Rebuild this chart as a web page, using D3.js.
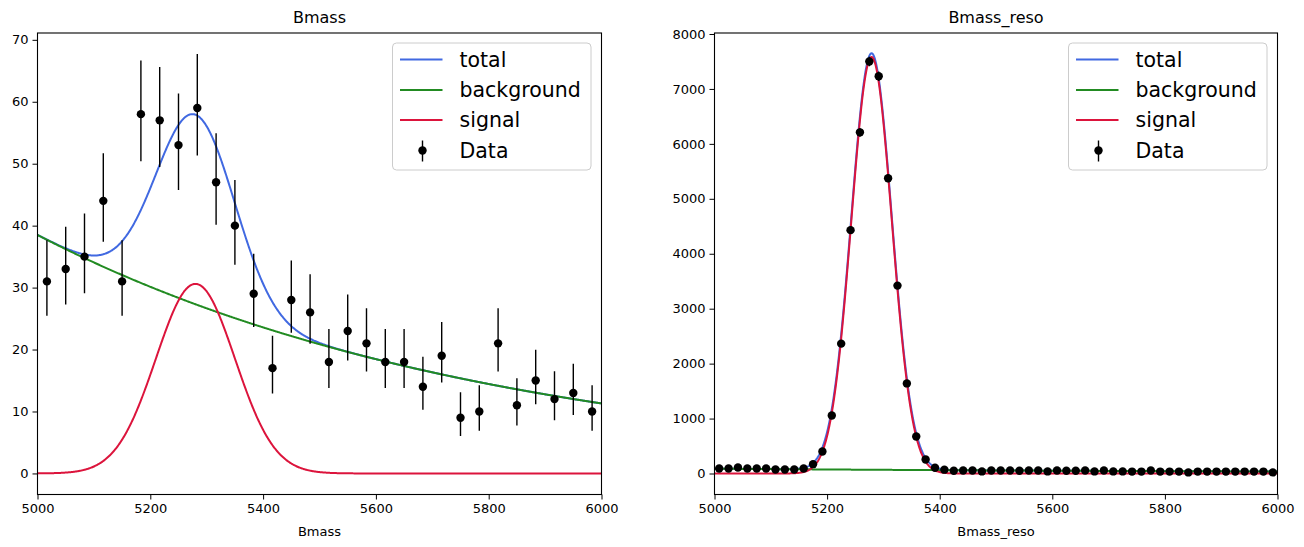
<!DOCTYPE html>
<html>
<head>
<meta charset="utf-8">
<script src="https://cdn.jsdelivr.net/npm/d3@7"></script>
<style>
  html, body { margin: 0; padding: 0; background: #fff; }
  svg { display: block; font-family: "DejaVu Sans", sans-serif; }
</style>
</head>
<body>
<svg id="chart" width="1304" height="547"></svg>
<script>
// ---------------- DATA ----------------
// Left panel: Bmass, 30 bins over [5000, 6000]
const bmassRange = [5000, 6000];
const bmassBins = 30;
const bmassCounts = [31, 33, 35, 44, 31, 58, 57, 53, 59, 47, 40, 29, 17, 28, 26,
                     18, 23, 21, 18, 18, 14, 19, 9, 10, 21, 11, 15, 12, 13, 10];
const bmassErrLow = [5.55, 5.72, 5.90, 6.61, 5.55, 7.60, 7.53, 7.26, 7.66, 6.84, 6.30, 5.36, 4.09, 5.27, 5.08,
                     4.21, 4.77, 4.56, 4.21, 4.21, 3.71, 4.33, 2.96, 3.12, 4.56, 3.28, 3.84, 3.43, 3.57, 3.12];
const bmassErrHigh = [6.63, 6.81, 6.98, 7.69, 6.63, 8.66, 8.60, 8.33, 8.73, 7.91, 7.38, 6.45, 5.21, 6.36, 6.17,
                      5.33, 5.87, 5.66, 5.33, 5.33, 4.84, 5.44, 4.12, 4.24, 5.66, 4.35, 4.97, 4.50, 4.69, 4.24];
// fit parameters (signal gaussian, exponential background), in counts per bin
const bmassSignal = { peak: 30.6, mean: 5280, sigma: 70 };
const bmassBkg = { at5000: 38.5, slope: 0.001226 };
const bmassYTicks = [0, 10, 20, 30, 40, 50, 60, 70];

// Right panel: Bmass_reso, 60 bins over [5000, 6000]
const resoRange = [5000, 6000];
const resoBins = 60;
const resoCounts = [91, 91, 109, 91, 91, 91, 73, 73, 73, 91,
                    170, 400, 1055, 2364, 4430, 6210, 7500, 7230, 5375, 3420,
                    1640, 675, 255, 105, 70, 50, 55, 55, 38, 55,
                    55, 55, 50, 55, 55, 38, 55, 50, 50, 55,
                    38, 55, 38, 38, 35, 35, 55, 35, 35, 35,
                    20, 35, 35, 35, 35, 35, 35, 35, 35, 20];
const resoSignal = { peak: 7580, mean: 5279, sigma: 36 };
const resoBkg = { at5000: 88, slope: 0.0009 };
const resoYTicks = [0, 1000, 2000, 3000, 4000, 5000, 6000, 7000, 8000];

const xTicks = [5000, 5200, 5400, 5600, 5800, 6000];
const legendLabels = ["total", "background", "signal", "Data"];
const colors = { total: "#4169E1", background: "#228B22", signal: "#DC143C", data: "#000000" };

// ---------------- DRAW ----------------
const svg = d3.select("#chart");

function panel(opts) {
  const { left, right, top, bottom, xDomain, yDomain, yTicks, counts, errLow, errHigh,
          nBins, sig, bkg, title, xlabel, id } = opts;
  const x = d3.scaleLinear().domain(xDomain).range([left, right]);
  const y = d3.scaleLinear().domain(yDomain).range([bottom, top]);
  const g = svg.append("g");

  const clipId = "clip-" + id;
  svg.append("defs").append("clipPath").attr("id", clipId)
    .append("rect").attr("x", left).attr("y", top).attr("width", right - left).attr("height", bottom - top);

  const binW = (xDomain[1] - xDomain[0]) / nBins;
  const centers = d3.range(nBins).map(i => xDomain[0] + (i + 0.5) * binW);

  const fSig = m => sig.peak * Math.exp(-((m - sig.mean) ** 2) / (2 * sig.sigma ** 2));
  const fBkg = m => bkg.at5000 * Math.exp(-bkg.slope * (m - 5000));
  const grid = d3.range(xDomain[0], xDomain[1] + 0.001, 1);

  const line = d3.line().x(d => x(d[0])).y(d => y(d[1]));
  const curves = g.append("g").attr("clip-path", `url(#${clipId})`);
  curves.append("path").attr("d", line(grid.map(m => [m, fSig(m) + fBkg(m)])))
    .attr("fill", "none").attr("stroke", colors.total).attr("stroke-width", 2);
  curves.append("path").attr("d", line(grid.map(m => [m, fBkg(m)])))
    .attr("fill", "none").attr("stroke", colors.background).attr("stroke-width", 2);
  curves.append("path").attr("d", line(grid.map(m => [m, fSig(m)])))
    .attr("fill", "none").attr("stroke", colors.signal).attr("stroke-width", 2);

  // data with error bars
  const pts = g.append("g").attr("clip-path", `url(#${clipId})`);
  counts.forEach((c, i) => {
    const lo = errLow ? errLow[i] : Math.sqrt(c);
    const hi = errHigh ? errHigh[i] : Math.sqrt(c);
    pts.append("line").attr("x1", x(centers[i])).attr("x2", x(centers[i]))
      .attr("y1", y(c - lo)).attr("y2", y(c + hi))
      .attr("stroke", "#000").attr("stroke-width", 1.4);
    pts.append("circle").attr("cx", x(centers[i])).attr("cy", y(c)).attr("r", 4.2).attr("fill", "#000");
  });

  // axes
  const xAxis = d3.axisBottom(x).tickValues(xTicks).tickFormat(d3.format("d")).tickSizeOuter(0).tickSize(5).tickPadding(4);
  const yAxis = d3.axisLeft(y).tickValues(yTicks).tickFormat(d3.format("d")).tickSizeOuter(0).tickSize(5).tickPadding(4);
  const gx = g.append("g").attr("transform", `translate(0,${bottom})`).call(xAxis);
  const gy = g.append("g").attr("transform", `translate(${left},0)`).call(yAxis);
  [gx, gy].forEach(a => {
    a.select(".domain").remove();
    a.selectAll("text").attr("font-size", 13).attr("fill", "#000").attr("font-family", "DejaVu Sans");
    a.selectAll("line").attr("stroke", "#000").attr("stroke-width", 1);
  });
  // frame
  g.append("rect").attr("x", left).attr("y", top).attr("width", right - left).attr("height", bottom - top)
    .attr("fill", "none").attr("stroke", "#000").attr("stroke-width", 1.1);

  // title & xlabel
  g.append("text").attr("x", (left + right) / 2).attr("y", 23).attr("text-anchor", "middle")
    .attr("font-size", 16).attr("fill", "#000").text(title);
  g.append("text").attr("x", (left + right) / 2).attr("y", 536).attr("text-anchor", "middle")
    .attr("font-size", 13).attr("fill", "#000").text(xlabel);

  // legend
  const lg = g.append("g");
  const lx = right - 209, ly = 43, lw = 198.5, lh = 127;
  lg.append("rect").attr("x", lx).attr("y", ly).attr("width", lw).attr("height", lh)
    .attr("rx", 4).attr("fill", "#fff").attr("fill-opacity", 0.8)
    .attr("stroke", "#cccccc").attr("stroke-width", 1);
  const rowY = [59.5, 90, 120, 150.5];
  const keys = ["total", "background", "signal"];
  keys.forEach((k, i) => {
    lg.append("line").attr("x1", lx + 7.5).attr("x2", lx + 50).attr("y1", rowY[i]).attr("y2", rowY[i])
      .attr("stroke", colors[k]).attr("stroke-width", 2);
  });
  const mx = lx + 30;
  lg.append("line").attr("x1", mx).attr("x2", mx).attr("y1", rowY[3] - 10).attr("y2", rowY[3] + 11)
    .attr("stroke", "#000").attr("stroke-width", 1.4);
  lg.append("circle").attr("cx", mx).attr("cy", rowY[3]).attr("r", 4.2).attr("fill", "#000");
  legendLabels.forEach((t, i) => {
    lg.append("text").attr("x", lx + 67).attr("y", rowY[i]).attr("dy", "0.36em")
      .attr("font-size", 20.5).attr("fill", "#000").text(t);
  });
}

panel({
  id: "l", left: 37.5, right: 601.5, top: 33, bottom: 494.5,
  xDomain: bmassRange, yDomain: [-3.4, 71.1], yTicks: bmassYTicks,
  counts: bmassCounts, errLow: bmassErrLow, errHigh: bmassErrHigh, nBins: bmassBins,
  sig: bmassSignal, bkg: bmassBkg, title: "Bmass", xlabel: "Bmass"
});
panel({
  id: "r", left: 714.5, right: 1277.5, top: 33, bottom: 494.5,
  xDomain: resoRange, yDomain: [-382, 8018], yTicks: resoYTicks,
  counts: resoCounts, errLow: null, errHigh: null, nBins: resoBins,
  sig: resoSignal, bkg: resoBkg, title: "Bmass_reso", xlabel: "Bmass_reso"
});
</script>
</body>
</html>
